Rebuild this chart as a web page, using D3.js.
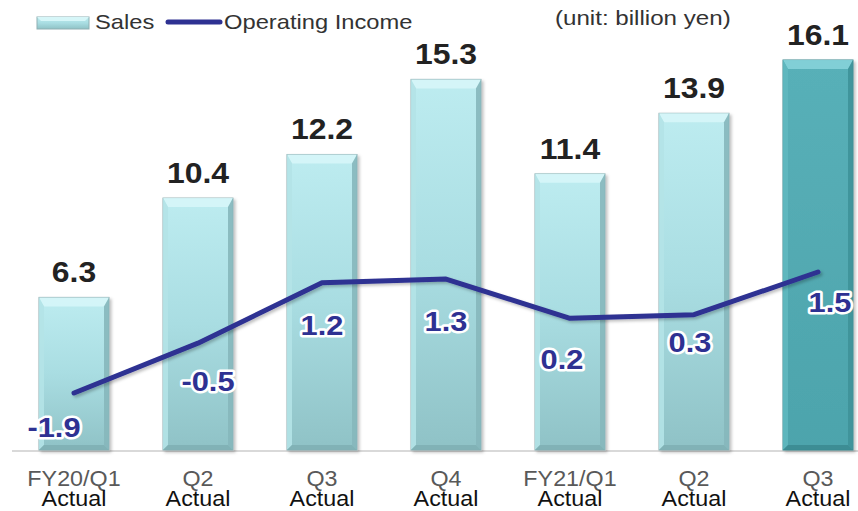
<!DOCTYPE html>
<html>
<head>
<meta charset="utf-8">
<script src="https://cdn.jsdelivr.net/npm/d3@7"></script>
<style>
  body { margin: 0; background: #fff; }
  svg { display: block; font-family: "Liberation Sans", Arial, sans-serif; }
</style>
</head>
<body>
<svg id="chart" width="858" height="511"></svg>
<script>

// data
let periods = ['FY20/Q1', 'Q2', 'Q3', 'Q4', 'FY21/Q1', 'Q2', 'Q3'];
let subLabels = ['Actual', 'Actual', 'Actual', 'Actual', 'Actual', 'Actual', 'Actual'];
let sales = [6.3, 10.4, 12.2, 15.3, 11.4, 13.9, 16.1];
let income = [-1.9, -0.5, 1.2, 1.3, 0.2, 0.3, 1.5];

// hand placement of the income labels (they sit under the line)
let incDx = [-20, 10, 0, 0, -8, -4, 12];
let incDy = [44, 48, 52, 52, 51, 37, 40];

let svg = d3.select('#chart');
let W = 858, H = 511;
let baseY = 450;
let barW = 70;

let x = d3.scalePoint()
    .domain(d3.range(periods.length))
    .range([74, 818]);

let ySales = d3.scaleLinear()
    .domain([0, 16.1])
    .range([baseY, 60]);

let yInc = d3.scaleLinear()
    .domain([-1.9, 1.5])
    .range([393, 272]);

// the source text is a bit wide, so stretch it horizontally
function place(sx){
  return function(sel, fx, fy){
    sel.attr('transform', function(d, i){
      return 'translate(' + fx(d, i) + ',' + fy(d, i) + ') scale(' + sx + ',1)';
    });
  };
}

let defs = svg.append('defs');

function gradient(id, stops){
  let g = defs.append('linearGradient')
      .attr('id', id)
      .attr('x1', 0).attr('y1', 0).attr('x2', 0).attr('y2', 1);
  stops.forEach(function(s){
    g.append('stop').attr('offset', s[0]).attr('stop-color', s[1]);
  });
}
gradient('gLight', [[0, '#bdecf0'], [0.5, '#a9dde2'], [1, '#8fc2c6']]);
gradient('gDark', [[0, '#58b0b8'], [1, '#4da4ac']]);

let shadow = defs.append('filter').attr('id', 'shadow')
    .attr('x', '-20%').attr('y', '-20%').attr('width', '140%').attr('height', '140%');
shadow.append('feDropShadow')
    .attr('dx', 2).attr('dy', 2).attr('stdDeviation', 1.5)
    .attr('flood-color', '#000').attr('flood-opacity', 0.25);

// axis base line
svg.append('line')
    .attr('x1', 12).attr('x2', W)
    .attr('y1', baseY + 1).attr('y2', baseY + 1)
    .attr('stroke', '#d9d9d9')
    .attr('stroke-width', 2);

// bars with a bevel look
let bars = svg.append('g').attr('class', 'bars')
  .selectAll('g')
  .data(sales)
  .enter().append('g')
    .attr('filter', 'url(#shadow)');

let bv = 9, sv = 5;
bars.each(function(d, i){
  let g = d3.select(this);
  let last = i === sales.length - 1;
  let x0 = x(i) - barW / 2, x1 = x(i) + barW / 2;
  let y0 = ySales(d), y1 = baseY;
  g.append('rect')
      .attr('x', x0).attr('y', y0)
      .attr('width', barW).attr('height', y1 - y0)
      .attr('fill', last ? 'url(#gDark)' : 'url(#gLight)')
      .attr('stroke', last ? '#3d8a90' : '#8fb0b3')
      .attr('stroke-width', 1);
  let polys = [
    // top
    [[x0, y0], [x1, y0], [x1 - sv, y0 + bv], [x0 + sv, y0 + bv], last ? '#86d3d9' : '#d6f6f8'],
    // left
    [[x0, y0], [x0 + sv, y0 + bv], [x0 + sv, y1 - sv], [x0, y1], last ? '#5fb8bf' : '#b4e3e7'],
    // right
    [[x1, y0], [x1 - sv, y0 + bv], [x1 - sv, y1 - sv], [x1, y1], last ? '#3f9299' : '#86b7bb'],
    // bottom
    [[x0, y1], [x0 + sv, y1 - sv], [x1 - sv, y1 - sv], [x1, y1], last ? '#3b8b91' : '#80b0b4']
  ];
  polys.forEach(function(p){
    g.append('polygon')
        .attr('points', p.slice(0, 4).map(function(q){ return q.join(','); }).join(' '))
        .attr('fill', p[4])
        .attr('opacity', 0.9);
  });
});

// sales values above bars
svg.append('g').selectAll('text')
  .data(sales)
  .enter().append('text')
    .call(place(1.1), function(d, i){ return x(i); }, function(d){ return ySales(d) - 15; })
    .attr('text-anchor', 'middle')
    .attr('font-size', 29)
    .attr('font-weight', 'bold')
    .attr('fill', '#222')
    .text(function(d){ return d.toFixed(1); });

// operating income line
let line = d3.line()
    .x(function(d, i){ return x(i); })
    .y(function(d){ return yInc(d); });

svg.append('path')
    .datum(income)
    .attr('d', line)
    .attr('fill', 'none')
    .attr('stroke', '#2e3192')
    .attr('stroke-width', 5)
    .attr('stroke-linejoin', 'round')
    .attr('stroke-linecap', 'round')
    .attr('filter', 'url(#shadow)');

svg.append('g').selectAll('text')
  .data(income)
  .enter().append('text')
    .call(place(1.1), function(d, i){ return x(i) + incDx[i]; }, function(d, i){ return yInc(d) + incDy[i]; })
    .attr('text-anchor', 'middle')
    .attr('font-size', 28)
    .attr('font-weight', 'bold')
    .attr('fill', '#2e3192')
    .attr('stroke', '#fff')
    .attr('stroke-width', 5)
    .attr('stroke-linejoin', 'round')
    .attr('paint-order', 'stroke')
    .text(function(d){ return d.toFixed(1); });

// category labels
let cat = svg.append('g').selectAll('g')
  .data(periods)
  .enter().append('g');

cat.append('text')
    .call(place(1.06), function(d, i){ return x(i); }, function(){ return 486; })
    .attr('text-anchor', 'middle')
    .attr('font-size', 22)
    .attr('fill', '#595959')
    .text(function(d){ return d; });

cat.append('text')
    .call(place(1.06), function(d, i){ return x(i); }, function(){ return 506; })
    .attr('text-anchor', 'middle')
    .attr('font-size', 22)
    .attr('fill', '#111')
    .text(function(d, i){ return subLabels[i]; });

// legend
let lg = svg.append('g').attr('class', 'legend');
lg.append('rect')
    .attr('x', 37).attr('y', 17)
    .attr('width', 52).attr('height', 12)
    .attr('fill', 'url(#gLight)')
    .attr('stroke', '#8fb0b3');
lg.append('polygon')
    .attr('points', '37,17 89,17 85,21 41,21')
    .attr('fill', '#d6f6f8');
lg.append('text')
    .attr('transform', 'translate(95,29) scale(1.13,1)')
    .attr('font-size', 21)
    .attr('fill', '#333')
    .text('Sales');
lg.append('line')
    .attr('x1', 168).attr('x2', 220)
    .attr('y1', 22).attr('y2', 22)
    .attr('stroke', '#2e3192')
    .attr('stroke-width', 5)
    .attr('stroke-linecap', 'round');
lg.append('text')
    .attr('transform', 'translate(224,29) scale(1.13,1)')
    .attr('font-size', 21)
    .attr('fill', '#333')
    .text('Operating Income');

svg.append('text')
    .attr('transform', 'translate(555,25) scale(1.15,1)')
    .attr('font-size', 21)
    .attr('fill', '#333')
    .text('(unit: billion yen)');

</script>
</body>
</html>
